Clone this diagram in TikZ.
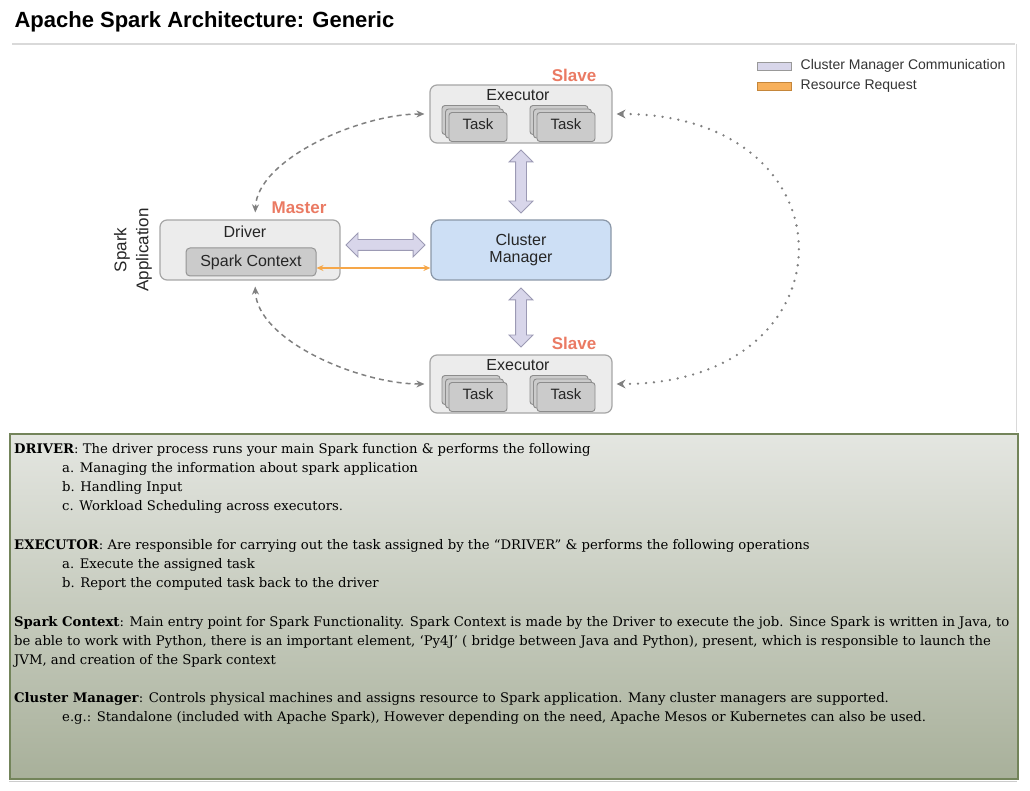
\documentclass[tikz,border=0pt]{standalone}
\usepackage{fontspec}
\setmainfont{DejaVu Serif}
\setsansfont{Liberation Sans}
\usetikzlibrary{arrows.meta,shapes.arrows,calc,positioning}

\definecolor{boxgrey}{RGB}{236,236,236}
\definecolor{boxline}{RGB}{166,166,166}
\definecolor{taskgrey}{RGB}{203,203,203}
\definecolor{taskline}{RGB}{140,140,140}
\definecolor{cmblue}{RGB}{205,223,245}
\definecolor{cmline}{RGB}{138,151,168}
\definecolor{lavender}{RGB}{216,214,234}
\definecolor{lavline}{RGB}{156,154,180}
\definecolor{roleRed}{RGB}{234,122,99}
\definecolor{reqOrange}{RGB}{246,167,73}
\definecolor{linkgrey}{RGB}{128,128,128}
\definecolor{noteline}{RGB}{115,132,90}
\definecolor{notetop}{RGB}{228,230,225}
\definecolor{notebot}{RGB}{168,176,154}

\begin{document}
\begin{tikzpicture}[x=1pt,y=1pt,yscale=-1,
  rbox/.style={draw=boxline, line width=1.2pt, rounded corners=7pt, fill=boxgrey},
  taskbox/.style={draw=taskline, line width=0.9pt, rounded corners=3pt, fill=taskgrey},
  lbl/.style={font=\sffamily\fontsize{16}{18}\selectfont, text=black!85},
  role/.style={font=\sffamily\bfseries\fontsize{17}{19}\selectfont, text=roleRed},
  fatarrow/.style={double arrow, draw=lavline, fill=lavender, line width=0.8pt,
    double arrow head extend=6.5pt, inner xsep=0pt, inner ysep=5pt, minimum width=23pt},
  ctrl/.style={draw=linkgrey, line width=1.5pt, dash pattern=on 5pt off 4pt,
    {Stealth[length=8pt,width=7pt]}-{Stealth[length=8pt,width=7pt]}},
  dots/.style={draw=linkgrey, line width=2.6pt, dash pattern=on 0pt off 8pt, line cap=round,
    {Stealth[length=9pt,width=9pt,line width=0pt]}-{Stealth[length=9pt,width=9pt,line width=0pt]}},
  legtext/.style={font=\sffamily\fontsize{14}{16}\selectfont, text=black!80, anchor=west},
  notetext/.style={anchor=north west, inner sep=0pt, align=left, font=\fontsize{13.2}{19}\selectfont}]
\useasboundingbox (0,0) rectangle (1030,791);

% Title
\node[anchor=west, font=\sffamily\bfseries\fontsize{22}{26}\selectfont] (title) at (11,22) {Apache Spark Architecture: Generic};
\draw[black!15, line width=1.5pt] (12,44) -- (1015,44);
\draw[black!15, line width=1pt] (1016,44) -- (1016,432);

% Legend
\node[draw=black!40, fill=lavender, minimum width=34pt, minimum height=8pt, inner sep=0pt] (lgA) at (774,66) {};
\node[draw=reqOrange!80!black, fill=reqOrange!90, minimum width=34pt, minimum height=8pt, inner sep=0pt] (lgB) at (774,86) {};
\node[legtext, right=6pt of lgA] {Cluster Manager Communication};
\node[legtext, right=6pt of lgB] {Resource Request};

% Executors
\node[rbox, minimum width=182pt, minimum height=58pt] (exT) at (521,114) {};
\node[rbox, minimum width=182pt, minimum height=58pt] (exB) at (521,384) {};
\node[lbl] at (518,95) {Executor};
\node[lbl] at (518,365) {Executor};
\node[role] (slaveT) at (574,75) {Slave};
\node[role] (slaveB) at (574,343) {Slave};

% Task stacks
\foreach \n/\cx/\cy in {tA/478/127, tB/566/127, tC/478/397, tD/566/397} {
  \foreach \d in {7,3.5}
    \draw[taskbox] (\cx-29-\d,\cy-14.5-\d) rectangle (\cx+29-\d,\cy+14.5-\d);
  \node[taskbox, minimum width=58pt, minimum height=29pt, inner sep=0pt] (\n) at (\cx,\cy) {};
  \node[lbl, font=\sffamily\fontsize{15}{17}\selectfont] at (\cx,\cy-3) {Task};
}

% Driver
\node[rbox, minimum width=180pt, minimum height=60pt] (drv) at (250,250) {};
\node[lbl] at (245,232) {Driver};
\node[draw=boxline!90!black, line width=1pt, rounded corners=4pt, fill=taskgrey, minimum width=130pt, minimum height=28pt,
  lbl] (sc) at (251,262) {Spark Context};
\node[role] (master) at (299,208) {Master};
\node[lbl, rotate=90, align=center, font=\sffamily\fontsize{17}{22}\selectfont] (app) at (133,250) {Spark\\Application};

% Cluster Manager
\node[draw=cmline, line width=1.2pt, rounded corners=8pt, fill=cmblue, minimum width=180pt, minimum height=60pt,
  lbl, align=center] (cm) at (521,250) {Cluster\\[-1pt]Manager};

% Cluster manager communication
\node[fatarrow, minimum height=79pt] (fa1) at ($(drv.east)!0.5!(cm.west)+(0,-5)$) {};
\node[fatarrow, rotate=90, minimum height=63pt] (fa2) at ($(exT.south)!0.5!(cm.north)$) {};
\node[fatarrow, rotate=90, minimum height=59pt] (fa3) at ($(cm.south)!0.5!(exB.north)$) {};

% Resource request
\coordinate (rq) at ($(sc.east)+(0,6)$);
\draw[reqOrange, line width=1.8pt, {Stealth[length=7pt,width=6pt]}-{Stealth[length=7pt,width=6pt]}] (rq) -- (rq -| cm.west);

% Driver <-> executors
\draw[ctrl, shorten >=7pt, shorten <=5pt] (exT.west) .. controls +(-70,0) and +(2,-60) .. ($(drv.north)+(5,0)$);
\draw[ctrl, shorten >=6pt, shorten <=5pt] (exB.west) .. controls +(-70,0) and +(2,60) .. ($(drv.south)+(5,0)$);
\draw[dots, shorten >=4pt, shorten <=4pt] (exT.east) .. controls +(245,0) and +(245,0) .. (exB.east);

% Notes
\node[draw=noteline, line width=2pt, top color=notetop, bottom color=notebot, minimum width=1008pt, minimum height=345pt,
  anchor=north west, inner sep=0pt] (notes) at (9,433) {};
\draw[black!20, line width=1pt] (9,781) -- (1017,781);

\node[notetext] (nDrv) at (14,443) {\textbf{DRIVER}: The driver process runs your main Spark function \& performs the following\\
\hspace*{48pt}a. Managing the information about spark application\\
\hspace*{48pt}b. Handling Input\\
\hspace*{48pt}c. Workload Scheduling across executors.};
\node[notetext] (nExe) at (14,539) {\textbf{EXECUTOR}: Are responsible for carrying out the task assigned by the “DRIVER” \& performs the following operations\\
\hspace*{48pt}a. Execute the assigned task\\
\hspace*{48pt}b. Report the computed task back to the driver};
\node[notetext] (nSc) at (14,616) {\textbf{Spark Context}: Main entry point for Spark Functionality. Spark Context is made by the Driver to execute the job. Since Spark is written in Java, to\\
be able to work with Python, there is an important element, ‘Py4J’ ( bridge between Java and Python), present, which is responsible to launch the\\
JVM, and creation of the Spark context};
\node[notetext] (nCm) at (14,692) {\textbf{Cluster Manager}: Controls physical machines and assigns resource to Spark application. Many cluster managers are supported.\\
\hspace*{48pt}e.g.: Standalone (included with Apache Spark), However depending on the need, Apache Mesos or Kubernetes can also be used.};

\end{tikzpicture}
\end{document}
